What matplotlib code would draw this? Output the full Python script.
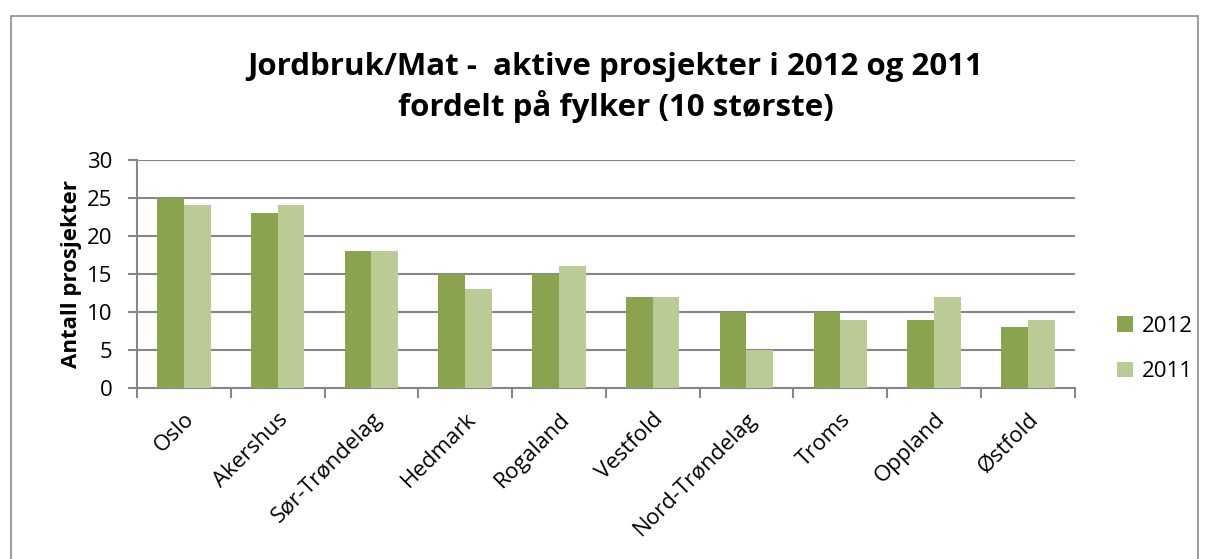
import numpy as np
import matplotlib.pyplot as plt
import matplotlib
from matplotlib.patches import Rectangle

matplotlib.rcParams["font.family"] = ["Open Sans", "DejaVu Sans"]

# data
fylker = ['Oslo', 'Akershus', 'Sør-Trøndelag', 'Hedmark', 'Rogaland',
          'Vestfold', 'Nord-Trøndelag', 'Troms', 'Oppland', 'Østfold']
v2012 = [25, 23, 18, 15, 15, 12, 10, 10, 9, 8]
v2011 = [24, 24, 18, 13, 16, 12, 5, 9, 12, 9]

c2012 = '#89A34E'
c2011 = '#BACB95'
grey = '#868686'

fig = plt.figure(figsize=(12.09, 5.59), dpi=100)
ax = fig.add_axes([0.1133, 0.306, 0.7756, 0.408])

# outer chart border
fig.patches.append(Rectangle((11 / 1209, -0.1), (1198 - 11) / 1209, 1.1 - 16 / 559,
                             transform=fig.transFigure, fill=False,
                             edgecolor='#8c8c8c', linewidth=1.2))

x = np.arange(len(fylker))
w = 0.285
ax.bar(x - w / 2, v2012, w, color=c2012, label='2012', zorder=3)
ax.bar(x + w / 2, v2011, w, color=c2011, label='2011', zorder=3)

ax.set_xlim(-0.5, len(fylker) - 0.5)
ax.set_ylim(0, 30)
ax.set_yticks(range(0, 31, 5))
ax.yaxis.grid(True, color=grey, linewidth=1.5, zorder=0)

# category boundary ticks on the x axis
ax.set_xticks(np.arange(-0.5, len(fylker), 1.0))
ax.set_xticklabels([])
ax.set_xticks(x, minor=True)
ax.set_xticklabels(fylker, minor=True, rotation=45, ha='right', rotation_mode='anchor',
                   fontsize=16)
ax.tick_params(axis='x', which='minor', length=0, pad=15)
ax.tick_params(axis='x', which='major', length=7, width=1.5, color=grey)
ax.tick_params(axis='y', length=6.5, width=1.5, color=grey, labelsize=16, pad=11)

for s in ['top', 'right']:
    ax.spines[s].set_visible(False)
for s in ['left', 'bottom']:
    ax.spines[s].set_color(grey)
    ax.spines[s].set_linewidth(1.5)

ax.set_ylabel('Antall prosjekter', fontsize=16, fontweight='bold', labelpad=4)

fig.text(0.509, 0.843, 'Jordbruk/Mat -  aktive prosjekter i 2012 og 2011\nfordelt på fylker (10 største)',
         ha='center', va='center', fontsize=22.5, fontweight='bold', linespacing=1.3)

leg = ax.legend(loc='center left', bbox_to_anchor=(1.024, 0.17), frameon=False,
                fontsize=16, handlelength=0.7, handleheight=0.7, labelspacing=1.1,
                handletextpad=0.4)

fig.savefig('out.png', dpi=100)
